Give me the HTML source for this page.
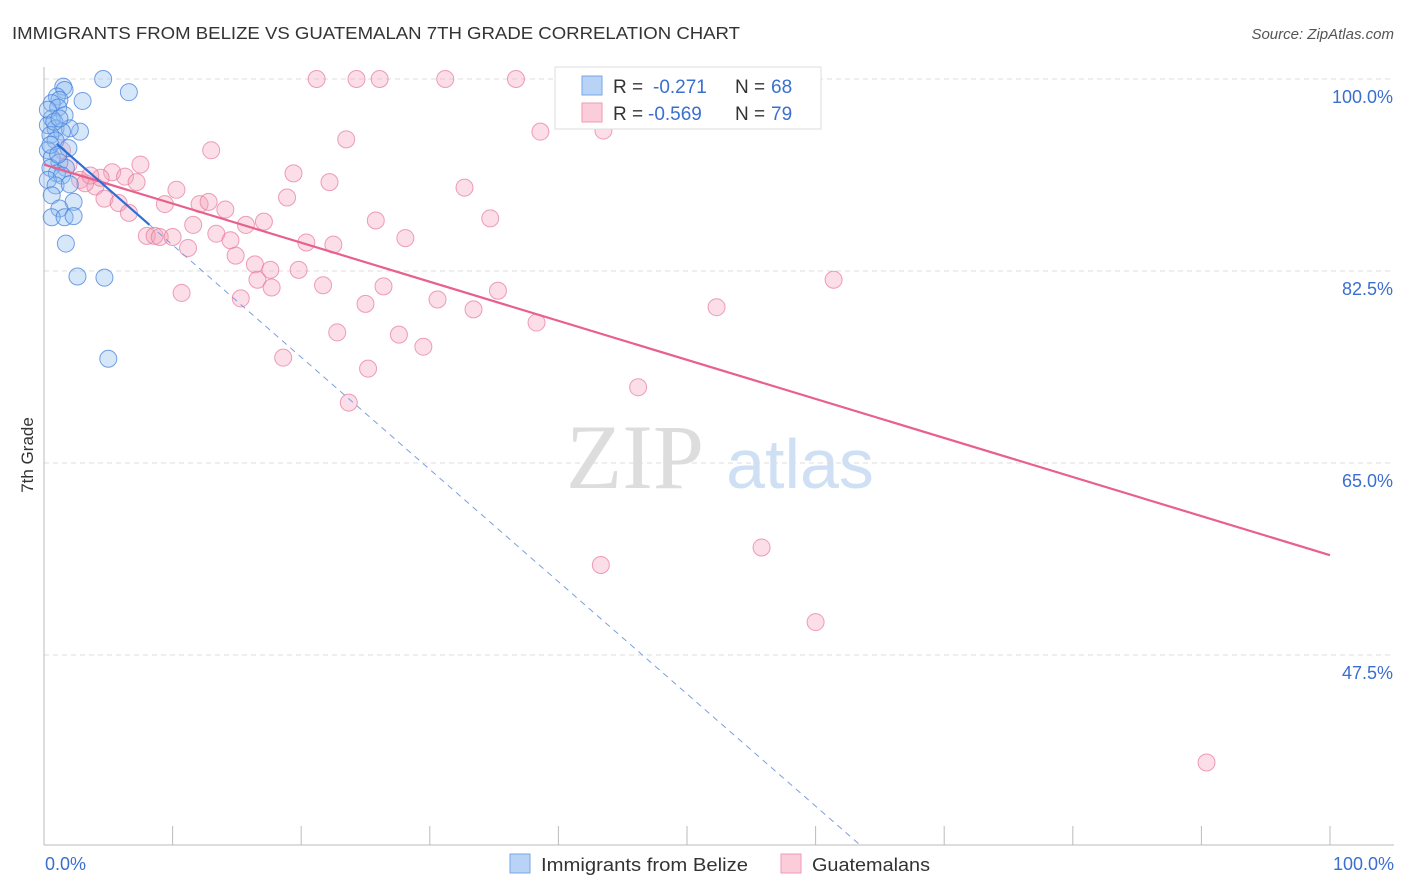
<!DOCTYPE html>
<html><head><meta charset="utf-8"><style>
body{margin:0;background:#fff;font-family:"Liberation Sans",sans-serif}
svg{display:block}
</style></head><body>
<svg id="c" width="1406" height="892" xmlns="http://www.w3.org/2000/svg">
<text x="12" y="39" font-size="17.5" fill="#333" textLength="728" lengthAdjust="spacingAndGlyphs">IMMIGRANTS FROM BELIZE VS GUATEMALAN 7TH GRADE CORRELATION CHART</text>
<text x="1394" y="39" font-size="15" fill="#555" text-anchor="end" font-style="italic">Source: ZipAtlas.com</text>
<text x="635" y="488" font-size="92" fill="#ddd" font-family="Liberation Serif,serif" text-anchor="middle">ZIP</text>
<text x="800" y="488" font-size="70" fill="#cfe0f5" text-anchor="middle">atlas</text>
<g id="grid"></g><g id="axes"></g><g id="pts"></g><g id="lines"></g>
<text x="33" y="455" font-size="17" fill="#333" text-anchor="middle" transform="rotate(-90 33 455)">7th Grade</text>
<g>
<rect x="555" y="67" width="266" height="62" fill="#fff" stroke="#ddd"/>
<rect x="582" y="76" width="20" height="19" fill="#b8d3f5" stroke="#7aa6e6"/>
<rect x="582" y="103" width="20" height="19" fill="#fbcddb" stroke="#f09ab3"/>
<text y="93" font-size="19" fill="#333"><tspan x="613">R =</tspan><tspan x="653" fill="#3a6fd0">-0.271</tspan><tspan x="735">N =</tspan><tspan x="771" fill="#3a6fd0">68</tspan></text>
<text y="120" font-size="19" fill="#333"><tspan x="613">R =</tspan><tspan x="648" fill="#3a6fd0">-0.569</tspan><tspan x="735">N =</tspan><tspan x="771" fill="#3a6fd0">79</tspan></text>
</g>
<g>
<rect x="510" y="854" width="20" height="19" fill="#b8d3f5" stroke="#7aa6e6"/>
<text x="541" y="871" font-size="18" fill="#333" textLength="207" lengthAdjust="spacingAndGlyphs">Immigrants from Belize</text>
<rect x="781" y="854" width="20" height="19" fill="#fbcddb" stroke="#f09ab3"/>
<text x="812" y="871" font-size="18" fill="#333" textLength="118" lengthAdjust="spacingAndGlyphs">Guatemalans</text>
</g>
</svg>
<script>
const yTicks=[100,82.5,65,47.5];
const xTickLabels=["0.0%","100.0%"];
const blueX=[4.6,6.6,1.5,1.6,3.0,1.0,1.2,0.6,1.1,1.6,0.6,0.3,0.9,2.8,2.0,1.4,0.5,0.9,1.9,0.3,0.6,1.2,1.7,0.5,1.0,1.4,0.3,0.9,2.0,0.6,2.3,1.2,0.6,1.6,2.3,1.7,2.6,4.7,5.0,0.5,1.1,0.3,0.8,1.2];
const blueY=[100,98.8,99.3,99.0,98.0,98.4,98.1,97.8,97.4,96.7,96.4,95.8,95.5,95.2,95.5,95.2,94.9,94.4,93.7,93.5,92.8,92.4,91.9,91.9,91.4,91.2,90.8,90.3,90.4,89.4,88.8,88.2,87.4,87.4,87.5,85.0,82.0,81.9,74.5,94.0,93.1,97.2,96.1,96.4];
const pinkX=[21.2,24.3,26.1,31.2,36.7,58.6,38.6,43.5,23.5,13.0,7.5,5.3,19.4,1.9,2.8,4.0,6.3,7.2,10.3,32.7,22.2,18.9,4.7,5.8,9.4,12.1,12.8,14.1,6.6,34.7,25.8,17.1,15.7,11.6,13.4,14.5,28.1,20.4,22.5,8.0,8.6,9.0,10.0,11.2,14.9,16.4,17.6,19.8,16.6,17.7,21.7,26.4,10.7,15.3,30.6,35.3,25.0,33.4,52.3,61.4,38.3,22.8,27.6,29.5,18.6,25.2,46.2,23.7,55.8,43.3,60.0,90.4,1.4,3.2,4.4,3.6];
const pinkY=[100,100,100,100,100,100,95.2,95.3,94.5,93.5,92.2,91.5,91.4,92.2,90.8,90.2,91.1,90.6,89.9,90.1,90.6,89.2,89.1,88.7,88.6,88.6,88.8,88.1,87.8,87.3,87.1,87.0,86.7,86.7,85.9,85.3,85.5,85.1,84.9,85.7,85.7,85.6,85.6,84.6,83.9,83.1,82.6,82.6,81.7,81.0,81.2,81.1,80.5,80.0,79.9,80.7,79.5,79.0,79.2,81.7,77.8,76.9,76.7,75.6,74.6,73.6,71.9,70.5,57.3,55.7,50.5,37.7,93.5,90.5,91.0,91.2];
const pinkFit=[92.2,56.6];
const blueFit=[95.1,-1.023];
const X=v=>44+v*12.86, Y=v=>79+(100-v)*10.971;
const NS="http://www.w3.org/2000/svg";
function mk(p,t,a){const e=document.createElementNS(NS,t);for(const k in a)e.setAttribute(k,a[k]);document.getElementById(p).appendChild(e);return e;}
yTicks.forEach(t=>{
 let l=mk('grid','line',{x1:44,x2:1394,y1:Y(t),y2:Y(t),stroke:'#ddd','stroke-dasharray':'5,4'});
 
 
 let tx=mk('grid','text',{x:1393,y:Y(t)+24,'font-size':18,fill:'#3a6fd0','text-anchor':'end'});
 tx.textContent=t.toFixed(1)+'%';
 
 
});
let ax=mk('axes','line',{x1:44,x2:1394,y1:845,y2:845,stroke:'#bbb'});


let ay=mk('axes','line',{x1:44,x2:44,y1:67,y2:845,stroke:'#bbb'});


for(let i=0;i<=10;i++){let t=mk('axes','line',{x1:X(i*10),x2:X(i*10),y1:826,y2:845,stroke:'#bbb'});
 
 }
[[0,'start',45],[100,'end',1394]].forEach((d,i)=>{let t=mk('axes','text',{x:d[2],y:870,'font-size':18,fill:'#3a6fd0','text-anchor':d[1]});t.textContent=xTickLabels[i];
 
 });
pinkX.forEach((x,i)=>{let c=mk('pts','circle',{cx:X(x),cy:Y(pinkY[i]),r:8.5,fill:'rgba(244,160,185,0.35)',stroke:'rgba(232,120,155,0.7)'});
 
 });
blueX.forEach((x,i)=>{let c=mk('pts','circle',{cx:X(x),cy:Y(blueY[i]),r:8.5,fill:'rgba(140,185,240,0.35)',stroke:'rgba(70,130,220,0.75)'});
 
 });
let pl=mk('lines','line',{x1:X(0),y1:Y(pinkFit[0]),x2:X(100),y2:Y(pinkFit[1]),stroke:'#e8608c','stroke-width':2.2});


const bf=x=>blueFit[0]+blueFit[1]*x;
let bl=mk('lines','line',{x1:X(1),y1:Y(bf(1)),x2:X(8.2),y2:Y(bf(8.2)),stroke:'#2d6fd6','stroke-width':2.2});


const xe=(blueFit[0]-30.2)/-blueFit[1];
let bd=mk('lines','line',{x1:X(8.2),y1:Y(bf(8.2)),x2:X(xe),y2:Y(bf(xe)),stroke:'#7aa0dd','stroke-width':1,'stroke-dasharray':'6,5'});


</script>
</body></html>
